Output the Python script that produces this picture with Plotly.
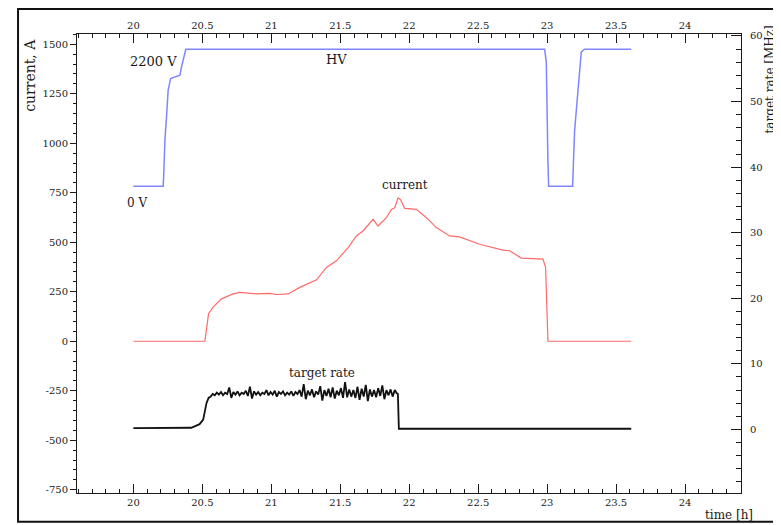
import plotly.graph_objects as go

# ---------------- data ----------------
# HV (volts) vs time [h]
hv_time = [20.00, 20.216, 20.221, 20.228, 20.241, 20.252, 20.270, 20.337, 20.349, 20.366, 20.380,
           22.982, 22.994, 23.006, 23.011, 23.185, 23.199, 23.223, 23.236, 23.248, 23.272, 23.610]
hv_volt = [0, 0, 240, 719, 1146, 1545, 1731, 1785, 1918, 2105, 2200,
           2200, 1998, 400, 0, 0, 879, 1518, 1890, 2157, 2200, 2200]

# current (left axis units)
cur_time = [20.000, 20.518, 20.530, 20.545, 20.578, 20.639, 20.723, 20.772, 20.893, 20.989, 21.038,
            21.122, 21.207, 21.328, 21.400, 21.472, 21.557, 21.617, 21.665, 21.738, 21.774, 21.835,
            21.871, 21.895, 21.919, 21.936, 21.967, 22.052, 22.125, 22.197, 22.293, 22.366, 22.511,
            22.680, 22.728, 22.813, 22.970, 22.989, 23.006, 23.610]
cur_val = [0, 0, 60, 139, 172, 214, 239, 247, 239, 242, 236,
           239, 272, 310, 373, 406, 473, 532, 557, 616, 582, 624,
           666, 674, 724, 716, 671, 666, 624, 574, 532, 527, 490,
           460, 457, 420, 415, 373, 0, 0]

# target rate [MHz]
rate_time = [20.000, 20.420, 20.480, 20.506, 20.530, 20.545,
             20.560, 20.575, 20.590, 20.605, 20.620, 20.635, 20.650, 20.665, 20.680, 20.695,
             20.710, 20.725, 20.740, 20.755, 20.770, 20.785, 20.800, 20.815, 20.830, 20.845,
             20.860, 20.875, 20.890, 20.905, 20.920, 20.935, 20.950, 20.965, 20.980, 20.995,
             21.010, 21.025, 21.040, 21.055, 21.070, 21.085, 21.100, 21.115, 21.130, 21.145,
             21.160, 21.175, 21.190, 21.205, 21.220, 21.235, 21.250, 21.265, 21.280, 21.295,
             21.310, 21.325, 21.340, 21.355, 21.370, 21.385, 21.400, 21.415, 21.430, 21.445,
             21.460, 21.475, 21.490, 21.505, 21.520, 21.535, 21.550, 21.565, 21.580, 21.595,
             21.610, 21.625, 21.640, 21.655, 21.670, 21.685, 21.700, 21.715, 21.730, 21.745,
             21.760, 21.775, 21.790, 21.805, 21.820, 21.835, 21.850, 21.865, 21.880, 21.895,
             21.910, 21.918, 21.925, 23.610]
rate_val = [0.2, 0.25, 0.8, 1.5, 4.0, 4.8,
            5.0, 5.4, 5.2, 5.6, 5.3, 5.7, 5.2, 5.6, 5.4, 6.4,
            4.8, 5.7, 5.3, 5.8, 5.2, 5.6, 5.4, 5.9, 5.1, 6.5,
            4.7, 5.8, 5.3, 5.7, 5.2, 5.6, 5.4, 6.0, 5.2, 5.7,
            5.3, 5.9, 5.0, 5.7, 5.4, 5.8, 5.2, 5.6, 5.3, 5.8,
            5.1, 5.7, 5.4, 6.0, 5.0, 6.9, 4.6, 5.9, 5.2, 6.1,
            4.9, 5.8, 5.3, 6.6, 4.4, 6.0, 5.1, 6.2, 4.9, 6.4,
            4.7, 5.9, 5.2, 6.3, 4.8, 7.2, 4.9, 6.1, 5.0, 6.0,
            4.8, 6.5, 4.5, 6.2, 5.0, 6.8, 4.3, 6.1, 5.0, 6.0,
            4.9, 6.3, 5.1, 6.7, 4.6, 6.0, 5.2, 6.1, 5.0, 6.0,
            5.5, 5.4, 0.1, 0.1]

x_tickvals = [20, 20.5, 21, 21.5, 22, 22.5, 23, 23.5, 24]
x_ticktext = ["20", "20.5", "21", "21.5", "22", "22.5", "23", "23.5", "24"]
yl_tickvals = [-750, -500, -250, 0, 250, 500, 750, 1000, 1250, 1500]
yl_ticktext = ["-750", "-500", "-250", "0", "250", "500", "750", "1000", "1250", "1500"]
yr_tickvals = [-10, 0, 10, 20, 30, 40, 50, 60]
yr_ticktext = ["-10", "0", "10", "20", "30", "40", "50", "60"]

# ---------------- figure ----------------
FONT = "DejaVu Serif"
XR = [19.591, 24.406]
INK = "#1a1a1a"

fig = go.Figure()
fig.add_trace(go.Scatter(x=cur_time, y=cur_val, mode="lines", line=dict(color="#ff6a6a", width=1.2),
                         xaxis="x", yaxis="y", showlegend=False, hoverinfo="skip"))
fig.add_trace(go.Scatter(x=hv_time, y=hv_volt, mode="lines", line=dict(color="#7f86ff", width=1.5),
                         xaxis="x", yaxis="y3", showlegend=False, hoverinfo="skip"))
fig.add_trace(go.Scatter(x=rate_time, y=rate_val, mode="lines", line=dict(color="#111111", width=1.8),
                         xaxis="x", yaxis="y2", showlegend=False, hoverinfo="skip"))
# invisible trace to anchor the top axis
fig.add_trace(go.Scatter(x=[XR[0]], y=[0], mode="markers", marker=dict(opacity=0),
                         xaxis="x2", yaxis="y", showlegend=False, hoverinfo="skip"))

tickfont = dict(family=FONT, size=10, color=INK)
axline = dict(showline=True, linecolor=INK, linewidth=1, showgrid=False, zeroline=False)

# page body has an 8px margin: figure is sized/offset to compensate
fig.update_layout(
    width=773, height=517,
    margin=dict(l=69, r=39.5, t=24, b=32),
    paper_bgcolor="white", plot_bgcolor="white",
    xaxis=dict(range=XR, tickvals=x_tickvals, ticktext=x_ticktext, ticks="inside", ticklen=9,
               tickcolor=INK, tickfont=tickfont, side="bottom",
               minor=dict(dtick=0.1, tick0=20, ticks="inside", ticklen=4, tickcolor=INK), **axline),
    xaxis2=dict(range=XR, tickvals=x_tickvals, ticktext=x_ticktext, ticks="inside", ticklen=9,
                tickcolor=INK, tickfont=tickfont, side="top", overlaying="x", anchor="y",
                minor=dict(dtick=0.1, tick0=20, ticks="inside", ticklen=4, tickcolor=INK), **axline),
    yaxis=dict(range=[-766.5, 1551.7], tickvals=yl_tickvals, ticktext=yl_ticktext, ticks="outside",
               ticklen=6, tickcolor=INK, tickfont=tickfont,
               minor=dict(dtick=50, tick0=0, ticks="outside", ticklen=3, tickcolor=INK), **axline),
    yaxis2=dict(range=[-9.7, 60.3], tickvals=yr_tickvals, ticktext=yr_ticktext, ticks="inside",
                ticklen=10, tickcolor=INK, tickfont=tickfont, side="right", overlaying="y",
                anchor="x", ticklabelstandoff=6,
                minor=dict(dtick=2, tick0=0, ticks="inside", ticklen=5, tickcolor=INK), **axline),
    yaxis3=dict(range=[-4921, 2444.5], overlaying="y", visible=False),
)

ann_font = dict(family=FONT, size=12, color=INK)
fig.add_annotation(x=20.149, y=1415, xref="x", yref="y", text="2200 V", showarrow=False,
                   font=dict(family=FONT, size=13, color=INK))
fig.add_annotation(x=21.475, y=1425, xref="x", yref="y", text="HV", showarrow=False,
                   font=dict(family=FONT, size=13, color=INK))
fig.add_annotation(x=20.025, y=697, xref="x", yref="y", text="0 V", showarrow=False, font=ann_font)
fig.add_annotation(x=21.967, y=788, xref="x", yref="y", text="current", showarrow=False, font=ann_font)
fig.add_annotation(x=21.366, y=-161, xref="x", yref="y", text="target rate", showarrow=False, font=ann_font)

# axis titles
fig.add_annotation(x=-0.0707, y=0.909, xref="paper", yref="paper", text="current, A", textangle=-90,
                   xanchor="center", yanchor="middle",
                   showarrow=False, font=dict(family=FONT, size=14, color=INK))
fig.add_annotation(x=1.0429, y=0.902, xref="paper", yref="paper", text="target rate [MHz]", textangle=-90,
                   xanchor="center", yanchor="middle",
                   showarrow=False, font=dict(family=FONT, size=12, color=INK))
fig.add_annotation(x=0.982, y=-0.0477, xref="paper", yref="paper", text="time [h]",
                   xanchor="center", yanchor="middle",
                   showarrow=False, font=dict(family=FONT, size=12, color=INK))

# outer frame
fig.add_shape(type="rect", xref="paper", yref="paper", x0=-0.0888, x1=1.08, y0=-0.0629, y1=1.0542,
              line=dict(color="#111111", width=2), layer="above")

fig.write_html("out.html")
